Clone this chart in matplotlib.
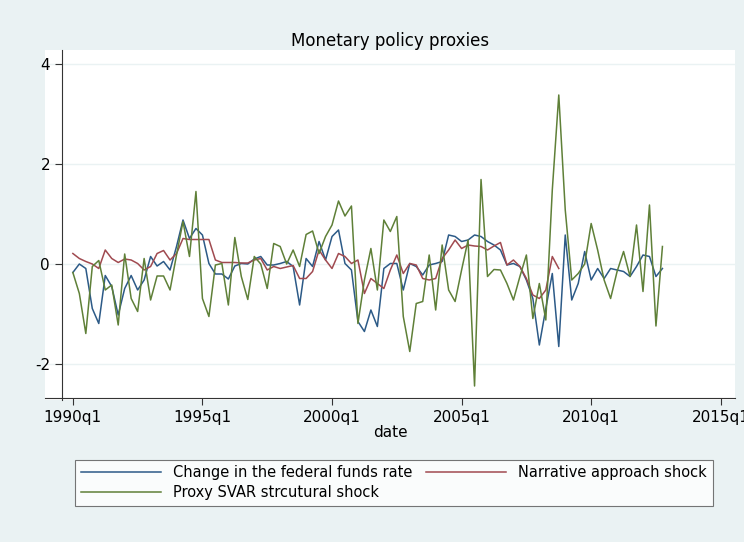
import matplotlib
matplotlib.use('Agg')
import matplotlib.pyplot as plt
import numpy as np

# quarterly data, 1990q1 onwards
fedfunds = [-0.17, 0.0, -0.09, -0.89, -1.19, -0.23, -0.45, -1.02, -0.49, -0.23,
            -0.52, -0.32, 0.15, -0.04, 0.05, -0.12, 0.35, 0.88, 0.51, 0.71,
            0.58, 0.01, -0.2, -0.2, -0.3, -0.04, 0.01, 0.0, 0.1, 0.15,
            -0.02, -0.02, 0.01, 0.05, -0.05, -0.82, 0.11, -0.05, 0.45, 0.08,
            0.55, 0.68, 0.01, -0.12, -1.15, -1.35, -0.92, -1.25, -0.09, 0.01,
            0.01, -0.52, 0.01, -0.05, -0.22, -0.02, 0.01, 0.05, 0.58, 0.55,
            0.45, 0.48, 0.58, 0.55, 0.45, 0.38, 0.28, -0.02, 0.01, -0.05,
            -0.32, -0.69, -1.62, -0.89, -0.19, -1.65, 0.58, -0.72, -0.39, 0.25,
            -0.32, -0.09, -0.29, -0.09, -0.12, -0.15, -0.25, -0.05, 0.18, 0.15,
            -0.25, -0.09]
narrative = [0.21, 0.11, 0.05, 0.0, -0.09, 0.28, 0.11, 0.03, 0.1, 0.08,
             0.01, -0.12, -0.05, 0.21, 0.27, 0.08, 0.21, 0.51, 0.49, 0.49,
             0.49, 0.49, 0.08, 0.03, 0.03, 0.03, 0.02, 0.02, 0.08, 0.11,
             -0.12, -0.05, -0.09, -0.06, -0.03, -0.29, -0.29, -0.15, 0.28, 0.08,
             -0.09, 0.21, 0.15, 0.01, 0.08, -0.59, -0.29, -0.39, -0.49, -0.12,
             0.18, -0.19, 0.01, -0.02, -0.29, -0.32, -0.29, 0.11, 0.28, 0.48,
             0.31, 0.38, 0.36, 0.35, 0.28, 0.36, 0.43, -0.02, 0.08, -0.05,
             -0.29, -0.62, -0.69, -0.52, 0.15, -0.09]
proxy_svar = [-0.17, -0.59, -1.39, -0.05, 0.07, -0.52, -0.42, -1.22, 0.2, -0.69,
              -0.95, 0.11, -0.72, -0.24, -0.24, -0.52, 0.18, 0.85, 0.15, 1.45,
              -0.69, -1.05, -0.02, 0.01, -0.82, 0.53, -0.25, -0.71, 0.15, 0.0,
              -0.49, 0.41, 0.35, 0.0, 0.28, -0.05, 0.59, 0.66, 0.21, 0.55,
              0.78, 1.26, 0.96, 1.16, -1.19, -0.32, 0.31, -0.52, 0.88, 0.65,
              0.95, -1.05, -1.75, -0.79, -0.75, 0.18, -0.92, 0.38, -0.52, -0.75,
              -0.12, 0.48, -2.44, 1.69, -0.25, -0.11, -0.12, -0.39, -0.72, -0.25,
              0.18, -1.09, -0.39, -1.12, 1.48, 3.38, 1.08, -0.32, -0.19, 0.0,
              0.81, 0.28, -0.32, -0.69, -0.15, 0.25, -0.25, 0.78, -0.55, 1.18,
              -1.24, 0.35]
tick_pos = [0, 20, 40, 60, 80, 100]
tick_labels = ['1990q1', '1995q1', '2000q1', '2005q1', '2010q1', '2015q1']

bg = '#eaf2f3'
W, H = 744, 542
fig = plt.figure(figsize=(W / 100, H / 100), dpi=100)
fig.patch.set_facecolor(bg)
ax = fig.add_axes([45 / W, 1 - 400 / H, 690 / W, 350 / H])
ax.set_facecolor('white')

ax.plot(np.arange(len(fedfunds)), fedfunds, color='#2c5a87', lw=1.1,
        label='Change in the federal funds rate')
ax.plot(np.arange(len(narrative)), narrative, color='#a04a50', lw=1.1,
        label='Narrative approach shock')
ax.plot(np.arange(len(proxy_svar)), proxy_svar, color='#5f8038', lw=1.1,
        label='Proxy SVAR strcutural shock')

ax.set_xlim(-4.3, 102.2)
ax.set_ylim(-2.72, 4.28)
ax.set_yticks([-2, 0, 2, 4])
ax.set_yticklabels(['-2', '0', '2', '4'], rotation=90, va='center')
ax.set_xticks(tick_pos)
ax.set_xticklabels(tick_labels)
ax.grid(axis='y', color=bg, lw=1)
ax.set_axisbelow(True)
for s in ['top', 'right']:
    ax.spines[s].set_visible(False)
ax.spines['left'].set_position(('data', -1.7))
ax.spines['bottom'].set_position(('data', -2.68))
ax.spines['left'].set_color('#333333')
ax.spines['bottom'].set_color('#333333')
ax.tick_params(labelsize=11, color='#333333', length=5)
ax.set_xlabel('date', fontsize=11, labelpad=0)
ax.set_title('Monetary policy proxies', fontsize=12, pad=2)

handles, labels = ax.get_legend_handles_labels()
order = [0, 2, 1]
leg = fig.legend([handles[i] for i in order], [labels[i] for i in order],
                 ncol=2, loc='lower left', mode='expand',
                 bbox_to_anchor=(68 / W, 1 - 513 / H, 652 / W, 58 / H),
                 frameon=True, fontsize=10.5, handlelength=5.5,
                 borderpad=0.4, labelspacing=0.3, fancybox=False)
leg.get_frame().set_edgecolor('#555555')
leg.get_frame().set_linewidth(0.8)

fig.savefig('out.png', dpi=100, facecolor=bg)
